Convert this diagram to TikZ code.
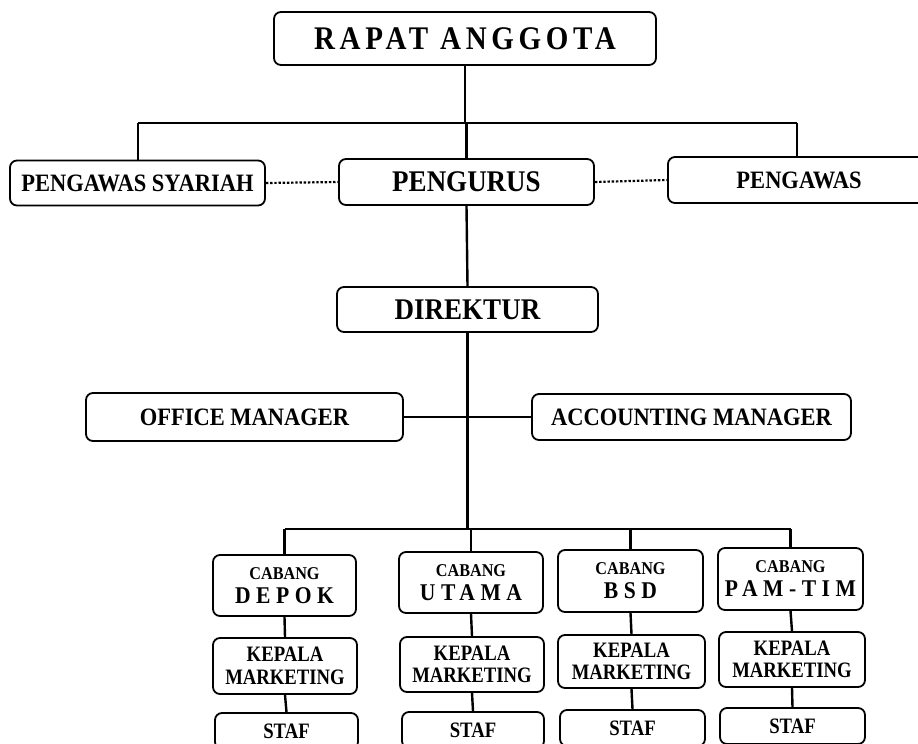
\documentclass[tikz,border=0pt]{standalone}
\usepackage{fontspec}
\newfontfamily\fa{Liberation Serif}[FakeStretch=0.9]
\newfontfamily\fb{Liberation Serif}[FakeStretch=0.85]
\newfontfamily\fsp{Liberation Serif}[FakeStretch=0.9,LetterSpace=23]
\newfontfamily\fra{Liberation Serif}[FakeStretch=0.88,LetterSpace=14]
\begin{document}
\begin{tikzpicture}[x=1pt,y=-1pt,
  box/.style={draw,line width=1.8pt,rounded corners=7pt,inner sep=0pt,align=center},
  cab/.style={box,font=\fa\bfseries\fontsize{24}{24}\selectfont},
  kep/.style={box,font=\fb\bfseries\fontsize{22}{22.5}\selectfont},
  staf/.style={box,minimum height=36pt,font=\fb\bfseries\fontsize{22}{22}\selectfont},
  conn/.style={line width=2.4pt},
  dots/.style={line width=2.2pt,dash pattern=on 2.4pt off 1.8pt}]
\useasboundingbox (0,0) rectangle (918,744);
\clip (0,0) rectangle (918,744);
% top level
\node[box,minimum width=382pt,minimum height=53pt,font=\fra\bfseries\fontsize{33}{33}\selectfont] (ra) at (465,38.5)
  {RAPAT ANGGOTA};
\node[box,minimum width=255pt,minimum height=45pt,font=\fa\bfseries\fontsize{25}{25}\selectfont] (ps) at (137.5,183)
  {PENGAWAS SYARIAH};
\node[box,minimum width=255pt,minimum height=46pt,font=\fa\bfseries\fontsize{30}{30}\selectfont] (pg) at (466.5,182)
  {PENGURUS};
\node[box,minimum width=262pt,minimum height=46pt,font=\fa\bfseries\fontsize{25}{25}\selectfont] (pw) at (799,180)
  {PENGAWAS};
\node[box,minimum width=261pt,minimum height=45pt,font=\fa\bfseries\fontsize{30}{30}\selectfont] (dir) at (467.5,309.5)
  {DIREKTUR};
\node[box,minimum width=317pt,minimum height=48pt,font=\fa\bfseries\fontsize{25}{25}\selectfont] (om) at (244.5,417)
  {OFFICE MANAGER};
\node[box,minimum width=319pt,minimum height=46pt,font=\fa\bfseries\fontsize{25}{25}\selectfont] (am) at (691.5,417)
  {ACCOUNTING MANAGER};
% branches
\node[cab,minimum width=143pt,minimum height=61pt] (cdep) at (284.5,585.5)
  {{\fontsize{18}{18}\selectfont CABANG}\\{\fsp\bfseries DEPOK}};
\node[cab,minimum width=144pt,minimum height=61pt] (cuta) at (471,582.5)
  {{\fontsize{18}{18}\selectfont CABANG}\\{\fsp\bfseries UTAMA}};
\node[cab,minimum width=145pt,minimum height=62pt] (cbsd) at (630.5,581)
  {{\fontsize{18}{18}\selectfont CABANG}\\{\fsp\bfseries BSD}};
\node[cab,minimum width=145pt,minimum height=62pt] (cpam) at (790.5,579)
  {{\fontsize{18}{18}\selectfont CABANG}\\{\fsp\bfseries PAM-TIM}};
\node[kep,minimum width=144pt,minimum height=56pt] (kdep) at (285,666) {KEPALA\\MARKETING};
\node[kep,minimum width=144pt,minimum height=55pt] (kuta) at (472,664.5) {KEPALA\\MARKETING};
\node[kep,minimum width=147pt,minimum height=53pt] (kbsd) at (631.5,661.5) {KEPALA\\MARKETING};
\node[kep,minimum width=146pt,minimum height=55pt] (kpam) at (792,659.5) {KEPALA\\MARKETING};
\node[staf,minimum width=143pt] (sdep) at (286.5,731) {STAF};
\node[staf,minimum width=142pt] (suta) at (473,730) {STAF};
\node[staf,minimum width=145pt] (sbsd) at (632.5,728) {STAF};
\node[staf,minimum width=145pt] (spam) at (792.5,726) {STAF};
% connector coordinates
\coordinate (tl) at (138,123);
\coordinate (tr) at (797,123);
\coordinate (bl) at (284.5,529);
\coordinate (br) at (790.5,529);
% top connectors
\draw[conn] (ra.south) -- (ra.south |- tl);
\draw[conn] (tl) -- (tr);
\draw[conn] (tl) -- (tl |- ps.north);
\draw[conn] (tr) -- (tr |- pw.north);
\draw[conn] (pg.north |- tl) -- (pg.north);
\draw[dots] (ps.east) -- (pg.west);
\draw[dots] (pg.east) -- (pw.west);
\draw[conn] (pg.south) -- (dir.north);
\draw[conn] (dir.south) -- (dir.south |- bl);
\draw[conn] (om.east) -- (am.west);
% branch connectors
\draw[conn] (bl) -- (br);
\draw[conn] (bl) -- (cdep.north);
\draw[conn] (cuta.north |- bl) -- (cuta.north);
\draw[conn] (cbsd.north |- bl) -- (cbsd.north);
\draw[conn] (br) -- (cpam.north);
\draw[conn] (cdep.south) -- (kdep.north);
\draw[conn] (cuta.south) -- (kuta.north);
\draw[conn] (cbsd.south) -- (kbsd.north);
\draw[conn] (cpam.south) -- (kpam.north);
\draw[conn] (kdep.south) -- (sdep.north);
\draw[conn] (kuta.south) -- (suta.north);
\draw[conn] (kbsd.south) -- (sbsd.north);
\draw[conn] (kpam.south) -- (spam.north);
\end{tikzpicture}
\end{document}
